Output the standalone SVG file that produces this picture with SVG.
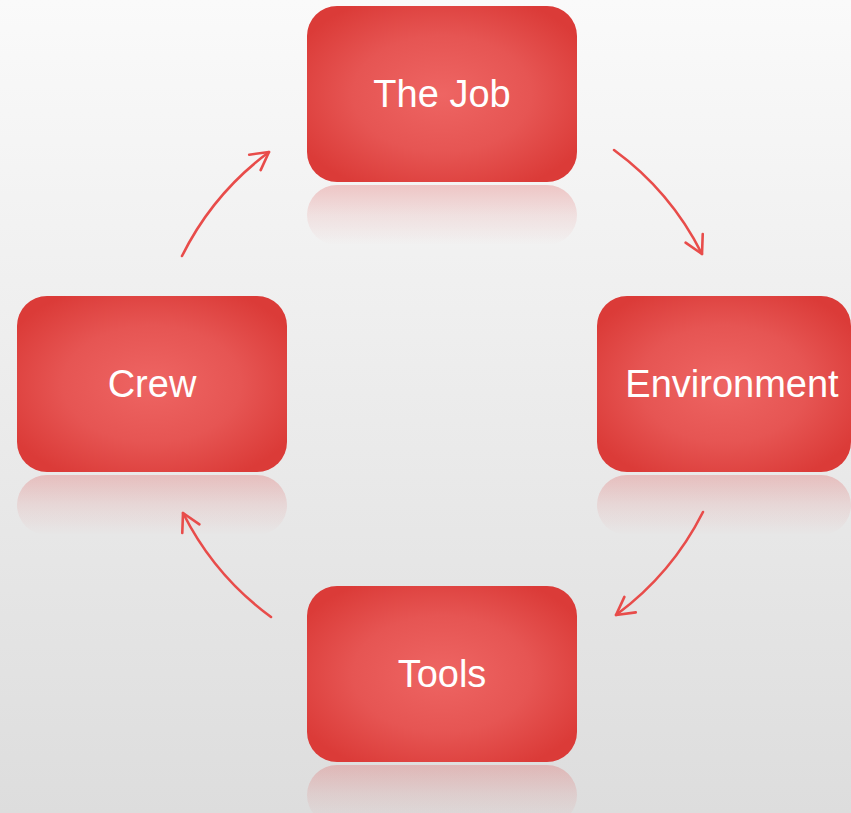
<svg xmlns="http://www.w3.org/2000/svg" width="851" height="813" viewBox="0 0 851 813">
  <defs>
    <linearGradient id="bg" x1="0" y1="0" x2="0" y2="1">
      <stop offset="0" stop-color="#fafafa"/>
      <stop offset="1" stop-color="#dddddd"/>
    </linearGradient>
    <radialGradient id="fill" cx="0.5" cy="0.5" r="0.6">
      <stop offset="0" stop-color="#ee6563"/>
      <stop offset="0.55" stop-color="#e65553"/>
      <stop offset="1" stop-color="#db3b38"/>
    </radialGradient>
    <linearGradient id="refl" x1="0" y1="0" x2="0" y2="1">
      <stop offset="0" stop-color="#e05a58" stop-opacity="0.3"/>
      <stop offset="0.5" stop-color="#e05a58" stop-opacity="0.12"/>
      <stop offset="1" stop-color="#e05a58" stop-opacity="0"/>
    </linearGradient>
    <marker id="arr" markerUnits="userSpaceOnUse" markerWidth="30" markerHeight="30" viewBox="-25 -15 30 30" refX="0" refY="0" orient="auto">
      <path d="M-17.5,-9.6 L0,0 L-17.5,9.6" fill="none" stroke="#e84c4a" stroke-width="2.6" stroke-linecap="round" stroke-linejoin="round"/>
    </marker>
  </defs>
  <style>
    .box { fill: url(#fill); }
    .ref { fill: url(#refl); }
    .lbl { font-family: "Liberation Sans", Arial, sans-serif; font-size: 38px; fill: #ffffff; text-anchor: middle; }
    .conn { fill: none; stroke: #e84c4a; stroke-width: 2.6; stroke-linecap: round; marker-end: url(#arr); }
  </style>
  <rect x="0" y="0" width="851" height="813" fill="url(#bg)"/>

  <g id="node-job">
    <rect class="ref" x="307" y="185" width="270" height="60" rx="30"/>
    <rect class="box" x="307" y="6" width="270" height="176" rx="30"/>
    <text class="lbl" x="442" y="107">The Job</text>
  </g>
  <g id="node-environment">
    <rect class="ref" x="597" y="475" width="254" height="60" rx="30"/>
    <rect class="box" x="597" y="296" width="254" height="176" rx="30"/>
    <text class="lbl" x="732" y="397">Environment</text>
  </g>
  <g id="node-tools">
    <rect class="ref" x="307" y="765" width="270" height="60" rx="30"/>
    <rect class="box" x="307" y="586" width="270" height="176" rx="30"/>
    <text class="lbl" x="442" y="687">Tools</text>
  </g>
  <g id="node-crew">
    <rect class="ref" x="17" y="475" width="270" height="60" rx="30"/>
    <rect class="box" x="17" y="296" width="270" height="176" rx="30"/>
    <text class="lbl" x="152" y="397">Crew</text>
  </g>

  <g id="connectors">
    <path class="conn" d="M182,256 A290,290 0 0 1 269,152"/>
    <path class="conn" d="M614,150 A290,290 0 0 1 702,254"/>
    <path class="conn" d="M703,512 A290,290 0 0 1 616,615"/>
    <path class="conn" d="M271,617 A290,290 0 0 1 183,513"/>
  </g>
</svg>
